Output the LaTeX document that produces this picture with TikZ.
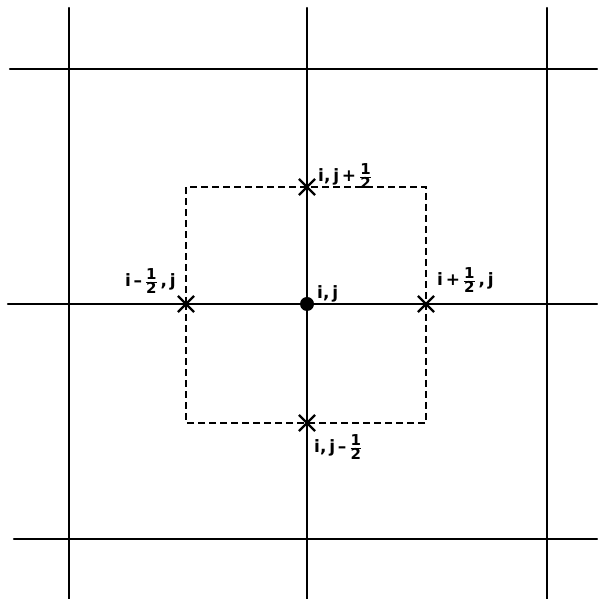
\documentclass[tikz,border=0pt]{standalone}
\usepackage{fontspec}
\setmainfont{DejaVu Sans}
\usetikzlibrary{shapes.misc,positioning}
\newcommand\half{$\frac{\mbox{\fontsize{15}{15}\selectfont 1}}{\mbox{\fontsize{15}{15}\selectfont 2}}$}
\begin{document}
\begin{tikzpicture}[
  x=1pt,y=1pt,
  gridline/.style={line width=2.4pt, line cap=round},
  cell/.style={draw, dashed, line width=2pt, dash pattern=on 7pt off 4pt},
  facemark/.style={cross out, draw, line width=2.2pt, minimum size=14pt, inner sep=0pt},
  pointmark/.style={circle, fill, minimum size=14pt, inner sep=0pt},
  lbl/.style={font=\fontsize{17}{19}\selectfont\bfseries, inner sep=0pt},
]
\useasboundingbox (0,0) rectangle (597,599);
% --- mesh lines ---
\foreach \x in {69,307,547} {
  \draw[gridline] (\x,591) -- (\x,0);
}
\foreach \y/\xs in {530/10,295/8,60/14} {
  \draw[gridline] (\xs,\y) -- (597,\y);
}
% --- control volume round node i,j ---
\node[pointmark] (C) at (307,295) {};
\node[facemark] (N) at (307,412) {};
\node[facemark] (S) at (307,176) {};
\node[facemark] (W) at (186,295) {};
\node[facemark] (E) at (426,295) {};
\draw[cell] (W.center) |- (N.center) -| (E.center) |- (S.center) -| (W.center);
% labels
\node[lbl, anchor=west] (labN) at (318,423) {i,\,j\,+\,\half};
\node[lbl, anchor=west] (labC) at (317,305) {i,\,j};
\node[lbl, anchor=east] (labW) at (176,318) {i\,\textendash\,\half\,,\,j};
\node[lbl, anchor=west] (labE) at (437,319) {i\,+\,\half\,,\,j};
\node[lbl, anchor=west] (labS) at (314,152) {i,\,j\,\textendash\,\half};
\end{tikzpicture}
\end{document}
